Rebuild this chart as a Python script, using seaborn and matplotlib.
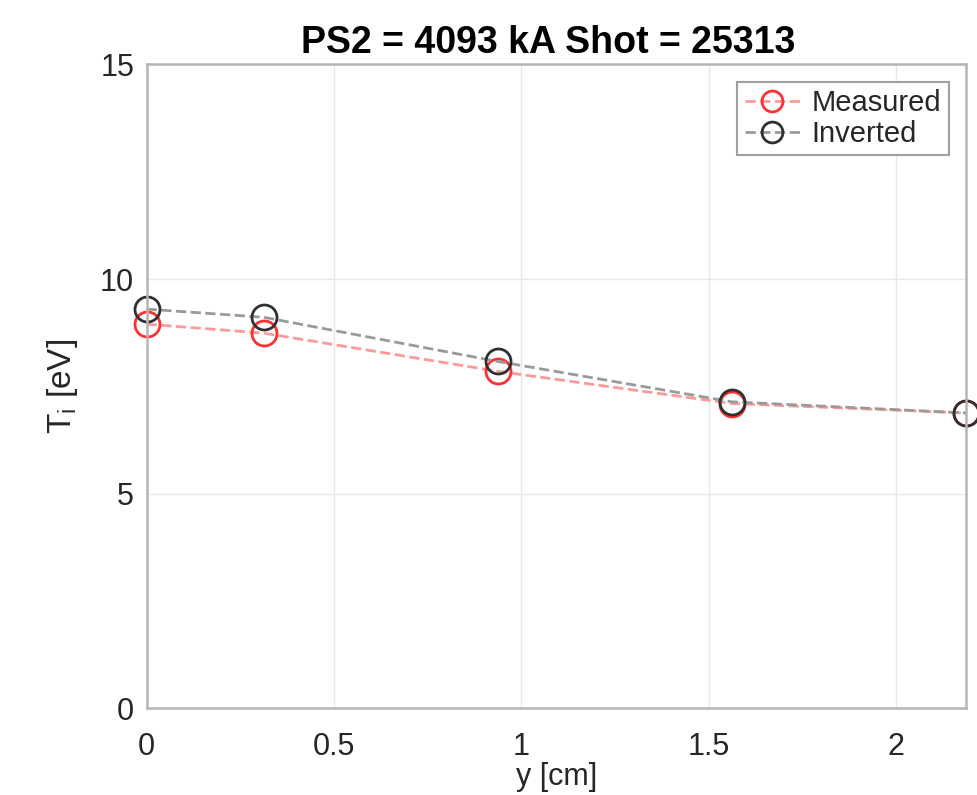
import matplotlib
matplotlib.use("Agg")
import matplotlib.pyplot as plt
import seaborn as sns
import pandas as pd

y_cm = [0.0, 0.3125, 0.9375, 1.5625, 2.1875]
measured = [8.95, 8.74, 7.85, 7.10, 6.88]
inverted = [9.30, 9.11, 8.08, 7.14, 6.88]
xticks = [0, 0.5, 1, 1.5, 2]
yticks = [0, 5, 10, 15]
title = "PS2 = 4093 kA Shot = 25313"

sns.set_theme(style="whitegrid")
plt.rcParams['font.family'] = ['Liberation Sans', 'DejaVu Sans']
plt.rcParams['mathtext.fontset'] = 'custom'
plt.rcParams['mathtext.rm'] = 'Liberation Sans'
plt.rcParams['mathtext.it'] = 'Liberation Sans'

fig = plt.figure(figsize=(9.77, 7.95), dpi=100)
ax = fig.add_axes([0.150, 0.109, 0.839, 0.810])

df = pd.DataFrame({"y": y_cm, "Measured": measured, "Inverted": inverted})

sns.lineplot(data=df, x="y", y="Measured", ax=ax, color="#ff9a9a", linestyle="--",
             linewidth=2, marker="o", markersize=18, markerfacecolor="none",
             markeredgecolor="#ff3030", markeredgewidth=2, label="Measured", clip_on=False)
sns.lineplot(data=df, x="y", y="Inverted", ax=ax, color="#9a9a9a", linestyle="--",
             linewidth=2, marker="o", markersize=18, markerfacecolor="none",
             markeredgecolor="#303030", markeredgewidth=2, label="Inverted", clip_on=False)

ax.set_xlim(0, 2.1875)
ax.set_ylim(0, 15)
ax.set_xticks(xticks)
ax.set_xticklabels([f"{t:g}" for t in xticks])
ax.set_yticks(yticks)
ax.tick_params(axis='both', labelsize=22, direction='in', length=5, width=1,
               color='#999999', labelcolor='#262626')
ax.tick_params(axis='x', pad=17)
ax.tick_params(axis='y', pad=9)
ax.grid(True, color='#e8e8e8', linewidth=1)
for s in ax.spines.values():
    s.set_visible(True)
    s.set_color('#b5b5b5')
    s.set_linewidth(1.8)

ax.set_xlabel("y [cm]", fontsize=22, color='#262626', labelpad=0)
ax.set_ylabel(r"T$_\mathregular{i}$ [eV]", fontsize=24, color='#262626', labelpad=14)
ax.set_title(title, fontsize=27, fontweight='bold', color='#000000', pad=8, x=0.49)

leg = ax.legend(loc='upper right', fontsize=21, frameon=True, fancybox=False,
                edgecolor='#a0a0a0', framealpha=1, handlelength=1.9,
                borderaxespad=0.6, borderpad=0.25, labelspacing=0.1, handletextpad=0.4)
leg.get_frame().set_linewidth(1.5)
for h in leg.legend_handles:
    h.set_markersize(15)

fig.savefig("out.png", dpi=100)
